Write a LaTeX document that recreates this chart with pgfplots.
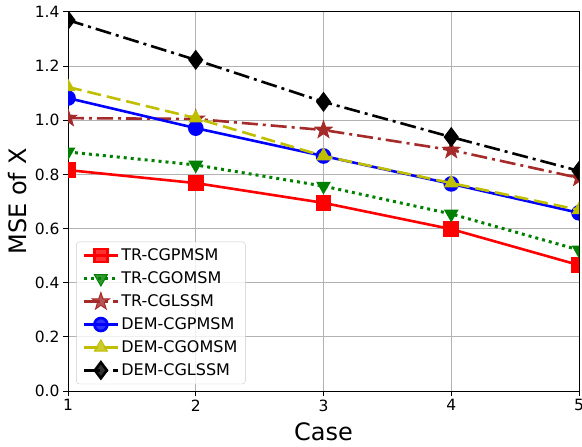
\documentclass[border=0pt]{standalone}
\usepackage{fontspec}
\setmainfont{DejaVu Sans}
\usepackage{pgfplots}
\pgfplotsset{compat=1.18}
\definecolor{mplgreen}{rgb}{0,0.5,0}
\definecolor{mplbrown}{RGB}{165,42,42}
\definecolor{mplyellow}{rgb}{0.75,0.75,0}
\pgfdeclareplotmark{fstar}{%
  \pgfpathmoveto{\pgfpointpolar{90}{\pgfplotmarksize}}%
  \pgfpathlineto{\pgfpointpolar{126}{0.4\pgfplotmarksize}}%
  \pgfpathlineto{\pgfpointpolar{162}{\pgfplotmarksize}}%
  \pgfpathlineto{\pgfpointpolar{198}{0.4\pgfplotmarksize}}%
  \pgfpathlineto{\pgfpointpolar{234}{\pgfplotmarksize}}%
  \pgfpathlineto{\pgfpointpolar{270}{0.4\pgfplotmarksize}}%
  \pgfpathlineto{\pgfpointpolar{306}{\pgfplotmarksize}}%
  \pgfpathlineto{\pgfpointpolar{342}{0.4\pgfplotmarksize}}%
  \pgfpathlineto{\pgfpointpolar{18}{\pgfplotmarksize}}%
  \pgfpathlineto{\pgfpointpolar{54}{0.4\pgfplotmarksize}}%
  \pgfpathclose\pgfusepathqfillstroke}
\begin{document}
\begin{tikzpicture}
\begin{axis}[
  scale only axis,
  width=511pt, height=379pt,
  xmin=1, xmax=5, ymin=0, ymax=1.4,
  xtick={1,2,3,4,5},
  ytick={0,0.2,0.4,0.6,0.8,1.0,1.2,1.4},
  yticklabel style={/pgf/number format/.cd,fixed,fixed zerofill,precision=1},
  /pgf/number format/assume math mode=true,
  tick label style={font=\fontsize{15.5}{18}\selectfont},
  tick align=outside,
  major tick length=5pt,
  tick style={black, line width=1pt},
  xtick pos=bottom, ytick pos=left,
  grid=major,
  grid style={color=black!30, line width=1pt},
  axis line style={line width=1pt},
  xlabel={Case}, ylabel={MSE of X},
  label style={font=\fontsize{24}{28}\selectfont},
  xlabel style={at={(axis description cs:0.5,-0.108)}, anchor=center},
  ylabel style={at={(axis description cs:-0.0978,0.5)}, anchor=center},
  legend style={at={(0.016,0.018)}, anchor=south west,
    font=\fontsize{16}{19}\selectfont, draw=black!20, rounded corners=3pt,
    fill=white, fill opacity=0.8, text opacity=1, row sep=5.5pt,
    inner xsep=6pt, inner ysep=5pt},
  legend cell align=left,
  legend image code/.code={\draw[mark repeat=2,mark phase=2,#1] plot coordinates {(0pt,0pt) (17pt,0pt) (34pt,0pt)};},
  every axis plot/.append style={line width=2.6pt},
  clip=true, clip marker paths=true,
]
\addplot[color=red, solid, mark=square*, mark size=6.5pt, mark options={solid}]
  coordinates {(1,0.816) (2,0.768) (3,0.695) (4,0.598) (5,0.465)};
\addlegendentry{TR-CGPMSM}
\addplot[color=mplgreen, line width=3pt, dash pattern=on 3pt off 4pt, mark=triangle*, mark size=7.5pt, mark options={solid, rotate=180, line width=1pt}]
  coordinates {(1,0.883) (2,0.835) (3,0.757) (4,0.654) (5,0.521)};
\addlegendentry{TR-CGOMSM}
\addplot[color=mplbrown, dash pattern=on 16pt off 5pt on 3pt off 5pt, mark=fstar, mark size=9pt, mark options={solid, fill=mplbrown, line width=1pt}]
  coordinates {(1,1.008) (2,1.005) (3,0.964) (4,0.890) (5,0.787)};
\addlegendentry{TR-CGLSSM}
\addplot[color=blue, solid, mark=*, mark size=6.5pt, mark options={solid}]
  coordinates {(1,1.082) (2,0.971) (3,0.868) (4,0.765) (5,0.658)};
\addlegendentry{DEM-CGPMSM}
\addplot[color=mplyellow, dash pattern=on 14pt off 6pt, mark=triangle*, mark size=7.5pt, mark options={solid, line width=1pt}]
  coordinates {(1,1.123) (2,1.008) (3,0.868) (4,0.768) (5,0.669)};
\addlegendentry{DEM-CGOMSM}
\addplot[color=black, dash pattern=on 16pt off 5pt on 3pt off 5pt, mark=diamond*, mark size=8pt, mark options={solid}]
  coordinates {(1,1.370) (2,1.223) (3,1.068) (4,0.938) (5,0.813)};
\addlegendentry{DEM-CGLSSM}
\end{axis}
\pgfresetboundingbox
\useasboundingbox ([xshift=-68pt,yshift=-55pt]current axis.south west) rectangle ([xshift=3pt,yshift=12pt]current axis.north east);
\end{tikzpicture}
\end{document}
